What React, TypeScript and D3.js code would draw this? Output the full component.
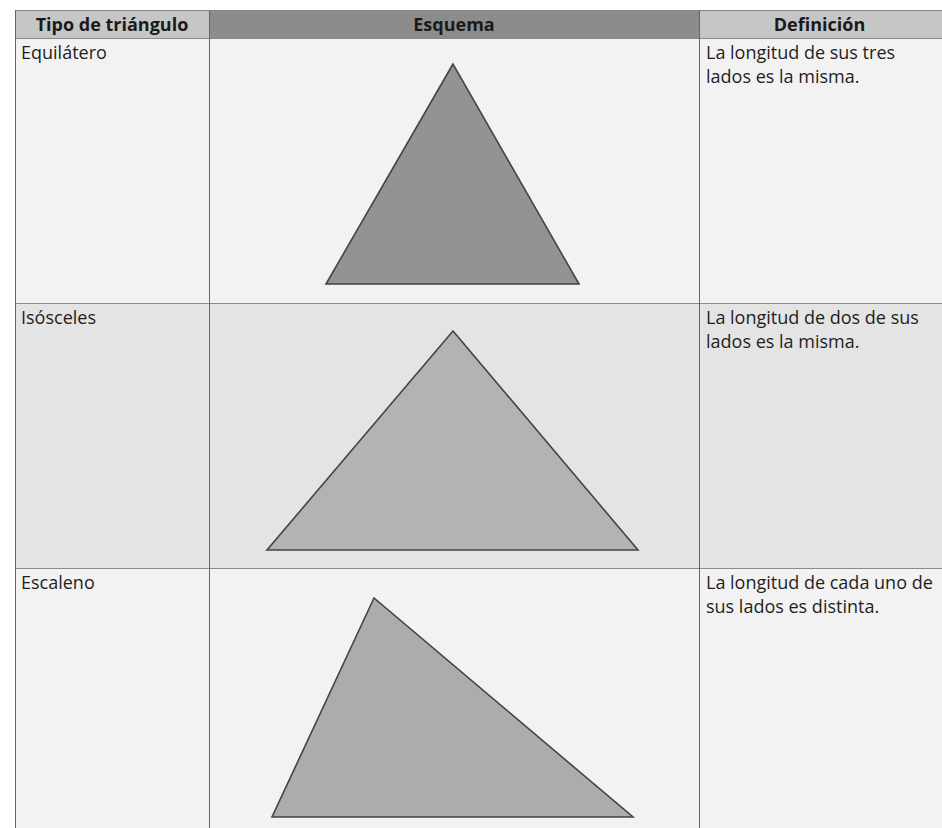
import React from 'react';
import * as d3 from 'd3';

// Table content
const headers = ['Tipo de triángulo', 'Esquema', 'Definición'];
const types = ['Equilátero', 'Isósceles', 'Escaleno'];
const definitions = [
  ['La longitud de sus tres', 'lados es la misma.'],
  ['La longitud de dos de sus', 'lados es la misma.'],
  ['La longitud de cada uno de', 'sus lados es distinta.'],
];
// triangle vertices in cell units (x: 0..490 across the Esquema column, y: 0..265 down the row)
const triangles: [number, number][][] = [
  [[244, 26], [117, 246], [370, 246]],
  [[244, 28], [58, 247], [429, 247]],
  [[165, 30], [63, 249], [424, 249]],
];
const triangleFills = ['#939393', '#b3b3b3', '#acacac'];
const rowFills = ['#f2f2f2', '#e4e4e4', '#f2f2f2'];

const W = 942;
const H = 828;
const colEdges = [15, 209, 699, 944];
const headerTop = 10;
const headerH = 28;
const rowH = 265;
const FONT = '"Open Sans", "DejaVu Sans", sans-serif';
const FS = 18;

const App: React.FC = () => {
  const rowY = d3.scaleLinear().domain([0, 1]).range([headerTop + headerH, headerTop + headerH + rowH]);
  const cellX = d3.scaleLinear().domain([0, 490]).range([colEdges[1], colEdges[2]]);
  const line = d3.line<[number, number]>();

  return (
    <svg width={W} height={H} style={{ position: 'absolute', left: 0, top: 0, background: '#fff' }} fontFamily={FONT}>
      {/* header */}
      {headers.map((h, i) => (
        <g key={h}>
          <rect
            x={colEdges[i]}
            y={headerTop}
            width={colEdges[i + 1] - colEdges[i]}
            height={headerH}
            fill={i === 1 ? '#8c8c8c' : '#c6c6c6'}
          />
          <text
            x={(colEdges[i] + colEdges[i + 1]) / 2 - (i === 2 ? 2 : 0)}
            y={headerTop + 21}
            textAnchor="middle"
            fontSize={FS}
            fontWeight="bold"
            fill="#1a1a1a"
          >
            {h}
          </text>
        </g>
      ))}
      <line x1={colEdges[0]} x2={W} y1={headerTop + 0.5} y2={headerTop + 0.5} stroke="#888" />

      {/* rows */}
      {types.map((t, r) => {
        const y0 = rowY(r);
        const cellY = d3.scaleLinear().domain([0, rowH]).range([y0, y0 + rowH]);
        const pts = triangles[r].map(([x, y]) => [cellX(x), cellY(y)] as [number, number]);
        return (
          <g key={t}>
            <rect x={colEdges[0]} y={y0} width={W - colEdges[0]} height={rowH} fill={rowFills[r]} />
            <line x1={colEdges[0]} x2={W} y1={y0 + 0.5} y2={y0 + 0.5} stroke="#8a8a8a" />
            <text x={21} y={y0 + 21} fontSize={FS} fill="#1e1e1e">{t}</text>
            {definitions[r].map((d, k) => (
              <text key={k} x={706} y={y0 + 21 + k * 24} fontSize={FS} fill="#1e1e1e">{d}</text>
            ))}
            <path
              d={line(pts) + 'Z'}
              fill={triangleFills[r]}
              stroke="#444"
              strokeWidth={1.6}
              strokeLinejoin="miter"
            />
          </g>
        );
      })}

      {/* vertical borders */}
      {colEdges.slice(0, 3).map((x, i) => (
        <line key={i} x1={x + 0.5} x2={x + 0.5} y1={headerTop} y2={H} stroke="#666" />
      ))}
    </svg>
  );
};

export default App;
